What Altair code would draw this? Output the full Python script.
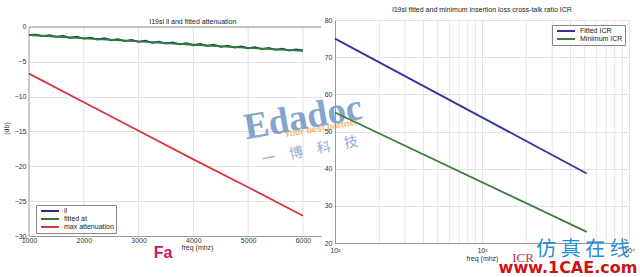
import altair as alt
import pandas as pd

FONT = "Liberation Sans"

# ---------------- left panel data ----------------
il_freq = [1000, 1125, 1250, 1375, 1500, 1625, 1750, 1875, 2000, 2125, 2250, 2375,
           2500, 2625, 2750, 2875, 3000, 3125, 3250, 3375, 3500, 3625, 3750, 3875,
           4000, 4125, 4250, 4375, 4500, 4625, 4750, 4875, 5000, 5125, 5250, 5375,
           5500, 5625, 5750, 5875, 6000]
il_db = [-1.15, -1.10, -1.30, -1.18, -1.42, -1.30, -1.55, -1.40, -1.68, -1.52, -1.80, -1.62,
         -1.90, -1.75, -2.02, -1.85, -2.15, -1.98, -2.28, -2.10, -2.40, -2.22, -2.50, -2.33,
         -2.62, -2.45, -2.72, -2.55, -2.85, -2.68, -2.95, -2.78, -3.05, -2.90, -3.18, -3.00,
         -3.28, -3.12, -3.38, -3.22, -3.35]
fit_freq = [1000, 2000, 3000, 4000, 5000, 6000]
fit_db = [-1.15, -1.62, -2.08, -2.55, -3.00, -3.42]
max_freq = [1000, 2000, 3000, 4000, 5000, 6000]
max_db = [-6.7, -10.8, -14.9, -19.0, -23.0, -27.1]

left_series = ["il", "fitted at", "max attenuation"]
left_colors = ["#2b2b93", "#2e7d32", "#d9343f"]
left_xticks = [1000, 2000, 3000, 4000, 5000, 6000]
left_yticks = [0, -5, -10, -15, -20, -25, -30]

# ---------------- right panel data ----------------
icr_freq = [100, 5156]
fitted_icr = [75.0, 38.7]
minimum_icr = [55.1, 23.0]
right_series = ["Fitted ICR", "Minimum ICR"]
right_colors = ["#34349f", "#3d7d3d"]
right_xticks = [100, 1000, 10000]
right_minor = [200, 300, 400, 500, 600, 700, 800, 900,
               2000, 3000, 4000, 5000, 6000, 7000, 8000, 9000]
right_yticks = [20, 30, 40, 50, 60, 70, 80]

# ---------------- tables ----------------
rows = []
for f, v in zip(il_freq, il_db):
    rows.append({"freq": f, "db": v, "series": "il"})
for f, v in zip(fit_freq, fit_db):
    rows.append({"freq": f, "db": v, "series": "fitted at"})
for f, v in zip(max_freq, max_db):
    rows.append({"freq": f, "db": v, "series": "max attenuation"})
left_df = pd.DataFrame(rows)

rrows = []
for f, v in zip(icr_freq, fitted_icr):
    rrows.append({"freq": f, "icr": v, "series": "Fitted ICR"})
for f, v in zip(icr_freq, minimum_icr):
    rrows.append({"freq": f, "icr": v, "series": "Minimum ICR"})
right_df = pd.DataFrame(rrows)

axis_common = dict(labelFontSize=7, titleFontSize=7, titleFontWeight="normal",
                   labelColor="#333", titleColor="#333", ticks=False,
                   domainColor="#999", gridColor="#e2e2e2", labelFont=FONT, titleFont=FONT,
                   labelOverlap=False, labelFlush=False, labelBound=False)

legend_common = dict(title=None, orient="none", fillColor="white", strokeColor="#888",
                     padding=2, symbolType="M-3,0H3", symbolStrokeWidth=2, symbolSize=36,
                     symbolOffset=8, labelFontSize=7, labelFont=FONT, rowPadding=0,
                     labelOffset=10, labelColor="#222", labelLimit=200)

# ---------------- left chart ----------------
xl = alt.X("freq:Q", scale=alt.Scale(domain=[1000, 6330], nice=False, zero=False),
           axis=alt.Axis(values=left_xticks, format="d", title="freq (mhz)", grid=False,
                         labelPadding=0, titlePadding=0, titleX=168, **axis_common))
yl = alt.Y("db:Q", scale=alt.Scale(domain=[-30, 1.0], nice=False, zero=False),
           axis=alt.Axis(values=left_yticks, title="(db)", labelPadding=3, titlePadding=5,
                         domain=False, **axis_common))
color_l = alt.Color("series:N", scale=alt.Scale(domain=left_series, range=left_colors),
                    legend=alt.Legend(legendX=7, legendY=185, **legend_common))

vgrid = alt.Chart(pd.DataFrame({"freq": left_xticks[1:], "db": -30, "db2": 0})).mark_rule(
    color="#e2e2e2", strokeWidth=1).encode(x=xl, y=yl, y2="db2:Q")
left_border = alt.Chart(pd.DataFrame({"freq": [1000], "db": -30, "db2": 0})).mark_rule(
    color="#999", strokeWidth=1).encode(x=xl, y=yl, y2="db2:Q")
left_top = alt.Chart(pd.DataFrame({"db": [0]})).mark_rule(color="#999", strokeWidth=1).encode(y=yl)
left_layers = [vgrid, left_border, left_top]
for s in left_series:
    left_layers.append(
        alt.Chart(left_df).transform_filter(alt.datum.series == s)
        .mark_line(strokeWidth=1.8).encode(x=xl, y=yl, color=color_l)
    )

def txt(text, x, y, size, color, weight="normal", style="normal", font=FONT, opacity=1.0, angle=0):
    kw = dict(text=text, fontSize=size, color=color, fontWeight=weight, fontStyle=style,
              font=font, opacity=opacity, align="center", baseline="middle")
    if angle:
        kw["angle"] = angle
    return alt.Chart(pd.DataFrame({"t": [text]})).mark_text(**kw).encode(
        x=alt.value(x), y=alt.value(y))

left_layers += [
    txt("Edadoc", 274, 98, 37, "#4f80ba", weight="bold", font="Liberation Serif",
        opacity=0.7, angle=350),
    txt("Your best partner", 292, 108, 9, "#f3a43a", weight="bold", opacity=0.75, angle=350),
    txt("一　博　科　技", 281, 131, 14, "#6f95c0", font="Noto Sans CJK SC", opacity=0.75, angle=349),
    txt("Fa", 134, 233, 16, "#d4145a", weight="bold"),
]

left = alt.layer(*left_layers).properties(
    width=292, height=216,
    title=alt.TitleParams("l19sl il and fitted attenuation", fontSize=7, font=FONT,
                          fontWeight="normal", color="#222", offset=-5, dx=18),
    view=alt.ViewBackground(stroke="transparent"),
)

# ---------------- right chart ----------------
xr = alt.X("freq:Q", scale=alt.Scale(type="log", domain=[100, 10000], nice=False),
           axis=alt.Axis(values=right_xticks, title="freq (mhz)",
                         labelExpr="datum.value == 100 ? '10²' : datum.value == 1000 ? '10³' : '10⁴'",
                         labelPadding=3, titlePadding=1, **axis_common))
yr = alt.Y("icr:Q", scale=alt.Scale(domain=[20, 80], nice=False, zero=False),
           axis=alt.Axis(values=right_yticks, title=None, labelPadding=3, **axis_common))
color_r = alt.Color("series:N", scale=alt.Scale(domain=right_series, range=right_colors),
                    legend=alt.Legend(legendX=217, legendY=5, **legend_common))

minor = alt.Chart(pd.DataFrame({"freq": right_minor})).mark_rule(
    color="#e6e6e6", strokeWidth=1).encode(x=xr)
right_layers = [minor]
for s in right_series:
    right_layers.append(
        alt.Chart(right_df).transform_filter(alt.datum.series == s)
        .mark_line(strokeWidth=1.8).encode(x=xr, y=yr, color=color_r)
    )
right_layers += [
    txt("ICR", 188, 238, 13, "#c8324a", font="Liberation Serif"),
    txt("仿 真 在 线", 248, 230, 20, "#1e8ee0", font="Noto Sans CJK SC"),
    txt("www.1CAE.com", 233, 248, 16, "#cc1111", weight="bold", font="DejaVu Sans"),
]

right = alt.layer(*right_layers).properties(
    width=294, height=223,
    title=alt.TitleParams("l19sl fitted and minimum insertion loss cross-talk ratio ICR",
                          fontSize=7, font=FONT, fontWeight="normal", color="#222", offset=3),
    view=alt.ViewBackground(stroke="#999"),
)

chart = alt.hconcat(left, right, spacing=14, bounds="flush").resolve_scale(
    color="independent"
).properties(
    padding={"left": 1, "top": 5, "right": 0, "bottom": 0},
    background="white",
).configure_view(stroke="#999")

chart.save("out.html", embed_options={"renderer": "svg", "actions": False})
